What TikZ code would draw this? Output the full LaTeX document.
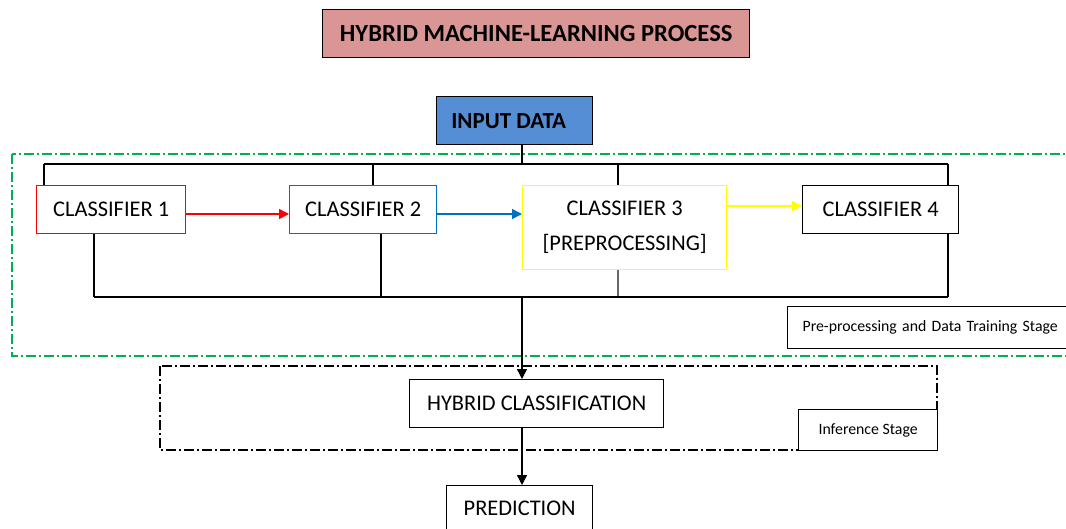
\documentclass[tikz,border=0pt]{standalone}
\usepackage{fontspec}
\setmainfont{Carlito}
\usetikzlibrary{arrows.meta}
\definecolor{titlefill}{HTML}{D99694}
\definecolor{inputfill}{HTML}{558ED5}
\definecolor{dgreen}{HTML}{00B050}
\definecolor{cblue}{HTML}{0070C0}
\definecolor{cyellow}{HTML}{FFFF00}
\tikzset{
  box/.style={draw=black, line width=1.4pt, fill=white, anchor=north west, inner sep=0pt, align=center,
    font=\fontsize{22.4}{26}\selectfont},
  wire/.style={draw=black, line width=1.4pt},
  arr/.style={line width=1.4pt, -{Triangle[length=10pt,width=10pt]}},
  dashdot/.style={line width=1.2pt, dash pattern=on 10pt off 3pt on 2pt off 3pt},
  stagebox/.style={draw=black, line width=1.2pt, fill=white, anchor=north west, inner sep=0pt,
    font=\fontsize{15.8}{18}\selectfont},
}
\begin{document}
\begin{tikzpicture}[x=1pt,y=-1pt]
\clip (0,0) rectangle (1066,528);
\fill[white] (0,0) rectangle (1066,528);

% stage frames
\draw[dashdot, draw=dgreen] (12,154) rectangle (1090,356);
\draw[dashdot, draw=black] (160,366) rectangle (937,450);

% nodes
\node[box, fill=titlefill, minimum width=427pt, minimum height=48pt,
  font=\fontsize{24.6}{28}\selectfont\bfseries] (title) at (322,9) {HYBRID MACHINE-LEARNING PROCESS};
\node[box, fill=inputfill, minimum width=156pt, minimum height=48pt,
  font=\fontsize{23}{26}\selectfont\bfseries] (input) at (436,96) {INPUT DATA\hspace{12pt}};
\node[box, draw=red, minimum width=149pt, minimum height=48pt] (c1) at (36,185) {CLASSIFIER 1};
\node[box, draw=cblue, minimum width=147pt, minimum height=48pt] (c2) at (289,185) {CLASSIFIER 2};
\node[box, draw=cyellow, minimum width=204pt, minimum height=84pt, font=\fontsize{22.4}{35}\selectfont] (c3) at (522,185) {CLASSIFIER 3\\{[PREPROCESSING]}};
\node[box, minimum width=156pt, minimum height=48pt] (c4) at (802,185) {CLASSIFIER 4};
\node[box, minimum width=254pt, minimum height=48pt] (hc) at (409,379) {HYBRID CLASSIFICATION};
\node[box, minimum width=146pt, minimum height=46pt] (pred) at (446,485) {PREDICTION};
\node[stagebox, minimum height=42pt, text width=272pt, inner xsep=15pt, align=left] (st1) at (787,306) {Pre-processing and Data Training Stage};
\node[stagebox, minimum width=139pt, minimum height=41pt] (st2) at (798,409) {Inference Stage};

% bus coordinates
\coordinate (tb) at (522,164);
\coordinate (t1) at (44,164);
\coordinate (t2) at (373,164);
\coordinate (t3) at (618,164);
\coordinate (t4) at (948,164);
\coordinate (b1) at (94,297);
\coordinate (b2) at (381,297);
\coordinate (b3) at (618,297);
\coordinate (b4) at (948,297);
\coordinate (bm) at (522,297);

% top bus
\draw[wire] (input.south -| tb) -- (tb);
\draw[wire] (t1) -- (t4);
\draw[wire] (t1) -- (t1 |- c1.north);
\draw[wire] (t2) -- (t2 |- c2.north);
\draw[wire] (t3) -- (t3 |- c3.north);
\draw[wire] (t4) -- (t4 |- c4.north);

% bottom bus
\draw[wire] (b1 |- c1.south) -- (b1);
\draw[wire] (b2 |- c2.south) -- (b2);
\draw[wire, draw=black!60] (b3 |- c3.south) -- (b3);
\draw[wire] (b4 |- c4.south) -- (b4);
\draw[wire] (b1) -- (b4);

% arrows between classifiers
\draw[arr, red] (c1.east |- 0,214) -- (c2.west |- 0,214);
\draw[arr, cblue] (c2.east |- 0,214) -- (c3.west |- 0,214);
\draw[arr, cyellow] (c3.east |- 0,206) -- (c4.west |- 0,206);

% main flow
\draw[arr, black] (bm) -- (bm |- hc.north);
\draw[arr, black] (bm |- hc.south) -- (bm |- pred.north);
\end{tikzpicture}
\end{document}
